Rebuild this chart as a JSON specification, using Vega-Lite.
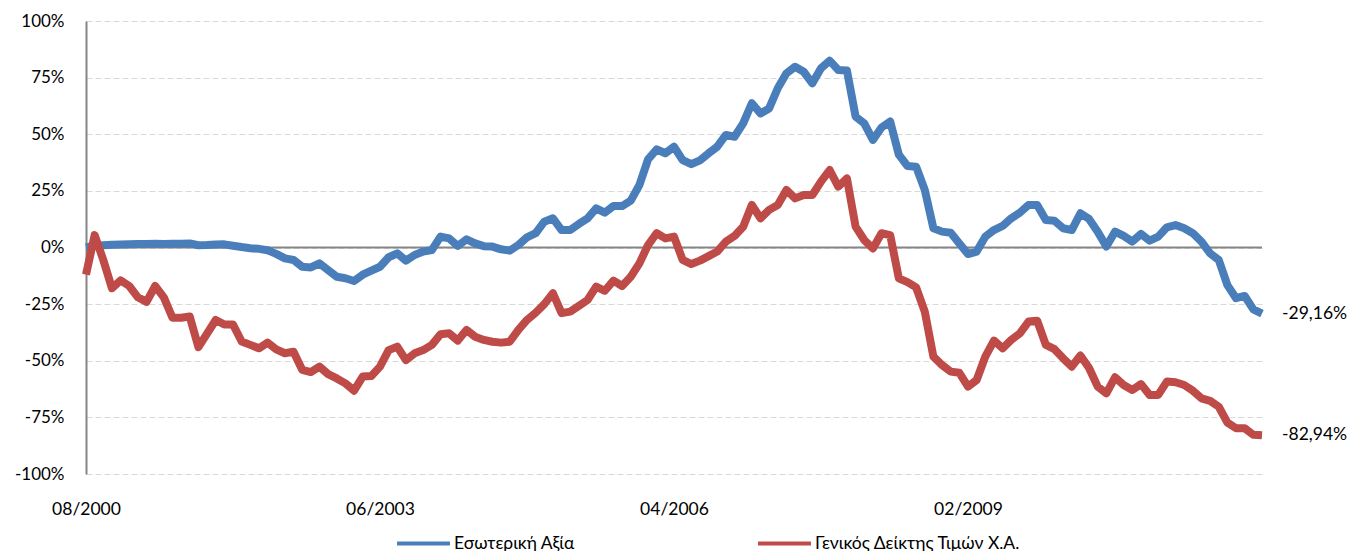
{
"$schema": "https://vega.github.io/schema/vega-lite/v6.json",
"width": 1176, "height": 453,
"autosize": "none",
"padding": {"left": 86, "top": 21, "right": 93, "bottom": 77},
"config": {"view": {"stroke": null}, "font": "Lato",
  "locale": {"number": {"decimal": ",", "thousands": ".", "grouping": [3], "currency": ["", " €"], "minus": "-"}}},
"data": {"values": [
{"m":"08/2000","a":0,"b":-0.12},
{"m":"09/2000","a":0.008,"b":0.055},
{"m":"10/2000","a":0.01,"b":-0.055},
{"m":"11/2000","a":0.012,"b":-0.18},
{"m":"12/2000","a":0.013,"b":-0.145},
{"m":"01/2001","a":0.014,"b":-0.17},
{"m":"02/2001","a":0.015,"b":-0.22},
{"m":"03/2001","a":0.016,"b":-0.24},
{"m":"04/2001","a":0.017,"b":-0.17},
{"m":"05/2001","a":0.016,"b":-0.22},
{"m":"06/2001","a":0.017,"b":-0.31},
{"m":"07/2001","a":0.017,"b":-0.31},
{"m":"08/2001","a":0.018,"b":-0.305},
{"m":"09/2001","a":0.01,"b":-0.44},
{"m":"10/2001","a":0.011,"b":-0.38},
{"m":"11/2001","a":0.013,"b":-0.32},
{"m":"12/2001","a":0.014,"b":-0.34},
{"m":"01/2002","a":0.008,"b":-0.34},
{"m":"02/2002","a":0.002,"b":-0.415},
{"m":"03/2002","a":-0.003,"b":-0.43},
{"m":"04/2002","a":-0.006,"b":-0.445},
{"m":"05/2002","a":-0.012,"b":-0.42},
{"m":"06/2002","a":-0.028,"b":-0.45},
{"m":"07/2002","a":-0.048,"b":-0.467},
{"m":"08/2002","a":-0.055,"b":-0.46},
{"m":"09/2002","a":-0.085,"b":-0.54},
{"m":"10/2002","a":-0.088,"b":-0.55},
{"m":"11/2002","a":-0.07,"b":-0.526},
{"m":"12/2002","a":-0.1,"b":-0.559},
{"m":"01/2003","a":-0.129,"b":-0.578},
{"m":"02/2003","a":-0.136,"b":-0.6},
{"m":"03/2003","a":-0.148,"b":-0.632},
{"m":"04/2003","a":-0.12,"b":-0.57},
{"m":"05/2003","a":-0.102,"b":-0.567},
{"m":"06/2003","a":-0.085,"b":-0.526},
{"m":"07/2003","a":-0.043,"b":-0.453},
{"m":"08/2003","a":-0.026,"b":-0.438},
{"m":"09/2003","a":-0.058,"b":-0.497},
{"m":"10/2003","a":-0.033,"b":-0.467},
{"m":"11/2003","a":-0.018,"b":-0.453},
{"m":"12/2003","a":-0.011,"b":-0.43},
{"m":"01/2004","a":0.048,"b":-0.383},
{"m":"02/2004","a":0.04,"b":-0.379},
{"m":"03/2004","a":0.007,"b":-0.411},
{"m":"04/2004","a":0.036,"b":-0.364},
{"m":"05/2004","a":0.018,"b":-0.394},
{"m":"06/2004","a":0.006,"b":-0.408},
{"m":"07/2004","a":0.004,"b":-0.416},
{"m":"08/2004","a":-0.008,"b":-0.42},
{"m":"09/2004","a":-0.014,"b":-0.416},
{"m":"10/2004","a":0.011,"b":-0.364},
{"m":"11/2004","a":0.045,"b":-0.32},
{"m":"12/2004","a":0.063,"b":-0.288},
{"m":"01/2005","a":0.114,"b":-0.25},
{"m":"02/2005","a":0.129,"b":-0.202},
{"m":"03/2005","a":0.077,"b":-0.29},
{"m":"04/2005","a":0.077,"b":-0.283},
{"m":"05/2005","a":0.104,"b":-0.258},
{"m":"06/2005","a":0.129,"b":-0.232},
{"m":"07/2005","a":0.173,"b":-0.173},
{"m":"08/2005","a":0.154,"b":-0.191},
{"m":"09/2005","a":0.183,"b":-0.146},
{"m":"10/2005","a":0.183,"b":-0.17},
{"m":"11/2005","a":0.207,"b":-0.129},
{"m":"12/2005","a":0.276,"b":-0.07},
{"m":"01/2006","a":0.389,"b":0.011},
{"m":"02/2006","a":0.433,"b":0.063},
{"m":"03/2006","a":0.416,"b":0.04},
{"m":"04/2006","a":0.445,"b":0.048},
{"m":"05/2006","a":0.386,"b":-0.055},
{"m":"06/2006","a":0.368,"b":-0.073},
{"m":"07/2006","a":0.385,"b":-0.058},
{"m":"08/2006","a":0.416,"b":-0.038},
{"m":"09/2006","a":0.445,"b":-0.018},
{"m":"10/2006","a":0.497,"b":0.026},
{"m":"11/2006","a":0.489,"b":0.051},
{"m":"12/2006","a":0.548,"b":0.092},
{"m":"01/2007","a":0.637,"b":0.188},
{"m":"02/2007","a":0.592,"b":0.129},
{"m":"03/2007","a":0.614,"b":0.166},
{"m":"04/2007","a":0.703,"b":0.188},
{"m":"05/2007","a":0.769,"b":0.254},
{"m":"06/2007","a":0.798,"b":0.217},
{"m":"07/2007","a":0.776,"b":0.232},
{"m":"08/2007","a":0.725,"b":0.232},
{"m":"09/2007","a":0.791,"b":0.291},
{"m":"10/2007","a":0.825,"b":0.342},
{"m":"11/2007","a":0.784,"b":0.269},
{"m":"12/2007","a":0.781,"b":0.305},
{"m":"01/2008","a":0.578,"b":0.092},
{"m":"02/2008","a":0.548,"b":0.033},
{"m":"03/2008","a":0.475,"b":-0.004},
{"m":"04/2008","a":0.53,"b":0.063},
{"m":"05/2008","a":0.556,"b":0.055},
{"m":"06/2008","a":0.41,"b":-0.136},
{"m":"07/2008","a":0.36,"b":-0.153},
{"m":"08/2008","a":0.357,"b":-0.176},
{"m":"09/2008","a":0.254,"b":-0.283},
{"m":"10/2008","a":0.085,"b":-0.482},
{"m":"11/2008","a":0.07,"b":-0.519},
{"m":"12/2008","a":0.065,"b":-0.548},
{"m":"01/2009","a":0.018,"b":-0.553},
{"m":"02/2009","a":-0.029,"b":-0.614},
{"m":"03/2009","a":-0.018,"b":-0.585},
{"m":"04/2009","a":0.048,"b":-0.482},
{"m":"05/2009","a":0.077,"b":-0.411},
{"m":"06/2009","a":0.095,"b":-0.445},
{"m":"07/2009","a":0.129,"b":-0.408},
{"m":"08/2009","a":0.154,"b":-0.379},
{"m":"09/2009","a":0.188,"b":-0.327},
{"m":"10/2009","a":0.188,"b":-0.323},
{"m":"11/2009","a":0.121,"b":-0.43},
{"m":"12/2009","a":0.118,"b":-0.449},
{"m":"01/2010","a":0.085,"b":-0.489},
{"m":"02/2010","a":0.077,"b":-0.526},
{"m":"03/2010","a":0.151,"b":-0.477},
{"m":"04/2010","a":0.126,"b":-0.532},
{"m":"05/2010","a":0.07,"b":-0.614},
{"m":"06/2010","a":0.004,"b":-0.644},
{"m":"07/2010","a":0.07,"b":-0.573},
{"m":"08/2010","a":0.051,"b":-0.607},
{"m":"09/2010","a":0.026,"b":-0.629},
{"m":"10/2010","a":0.06,"b":-0.603},
{"m":"11/2010","a":0.03,"b":-0.651},
{"m":"12/2010","a":0.048,"b":-0.651},
{"m":"01/2011","a":0.089,"b":-0.592},
{"m":"02/2011","a":0.099,"b":-0.595},
{"m":"03/2011","a":0.085,"b":-0.607},
{"m":"04/2011","a":0.063,"b":-0.632},
{"m":"05/2011","a":0.026,"b":-0.666},
{"m":"06/2011","a":-0.026,"b":-0.677},
{"m":"07/2011","a":-0.055,"b":-0.703},
{"m":"08/2011","a":-0.166,"b":-0.773},
{"m":"09/2011","a":-0.224,"b":-0.798},
{"m":"10/2011","a":-0.214,"b":-0.798},
{"m":"11/2011","a":-0.273,"b":-0.827},
{"m":"12/2011","a":-0.2916,"b":-0.8294}
]},
"transform": [{"fold": ["a", "b"], "as": ["s", "v"]}],
"layer": [
  {
    "data": {"values": [{"z": 0}]},
    "mark": {"type": "rule", "color": "#868686", "strokeWidth": 2},
    "encoding": {"y": {"field": "z", "type": "quantitative"}}
  },
  {
    "mark": {"type": "line", "strokeWidth": 8, "strokeJoin": "round"},
    "encoding": {
      "x": {"field": "m", "type": "ordinal", "sort": null,
        "scale": {"type": "point", "padding": 0},
        "axis": {"values": ["08/2000", "06/2003", "04/2006", "02/2009"], "ticks": false, "domain": false, "grid": false,
          "labelAngle": 0, "labelPadding": 26, "labelFontSize": 17.5, "labelColor": "#000000", "title": null}},
      "y": {"field": "v", "type": "quantitative",
        "scale": {"domain": [-1, 1], "nice": false, "zero": false},
        "axis": {"values": [-1, -0.75, -0.5, -0.25, 0, 0.25, 0.5, 0.75, 1], "format": ".0%", "ticks": false,
          "domainColor": "#868686", "domainWidth": 2, "gridColor": "#d9d9d9", "gridDash": [6, 3], "gridWidth": 1,
          "labelFontSize": 17, "labelPadding": 22, "labelColor": "#000000", "title": null}},
      "color": {"field": "s", "type": "nominal",
        "scale": {"domain": ["a", "b"], "range": ["#4a7ebb", "#be4b48"]},
        "legend": {"orient": "none", "legendX": 309, "legendY": 494, "direction": "horizontal", "title": null,
          "symbolType": "stroke", "symbolSize": 2800, "symbolStrokeWidth": 4, "labelFontSize": 17.5, "labelColor": "#000000",
          "labelExpr": "datum.label == 'a' ? 'Εσωτερική Αξία' : 'Γενικός Δείκτης Τιμών Χ.Α.'",
          "labelLimit": 500, "columnPadding": 175, "labelOffset": 2}}
    }
  },
  {
    "transform": [{"filter": "datum.m == '12/2011'"}],
    "mark": {"type": "text", "align": "left", "baseline": "middle", "dx": 20, "fontSize": 17.5, "color": "#000000"},
    "encoding": {
      "x": {"field": "m", "type": "ordinal", "sort": null},
      "y": {"field": "v", "type": "quantitative"},
      "text": {"field": "v", "type": "quantitative", "format": ".2%"}
    }
  }
]
}
